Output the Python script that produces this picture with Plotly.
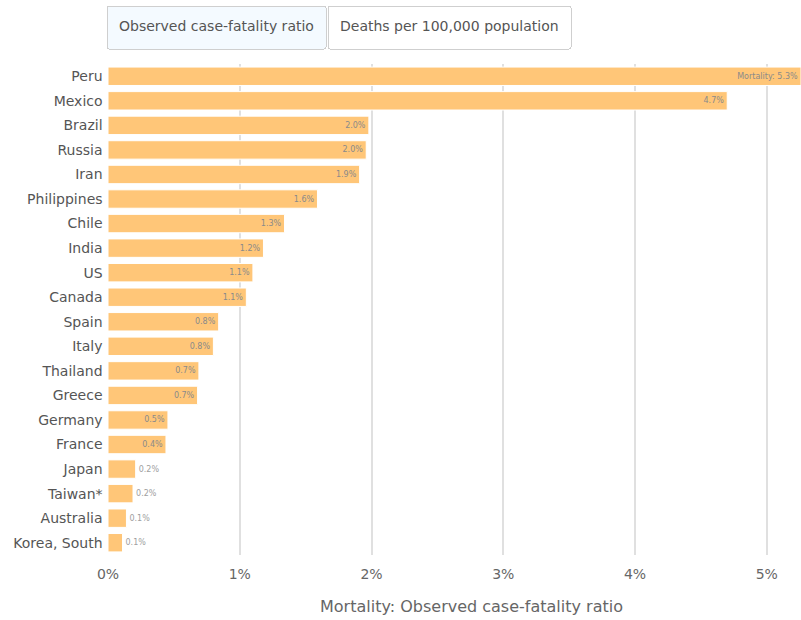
import plotly.graph_objects as go

countries = ["Peru", "Mexico", "Brazil", "Russia", "Iran", "Philippines", "Chile", "India",
             "US", "Canada", "Spain", "Italy", "Thailand", "Greece", "Germany", "France",
             "Japan", "Taiwan*", "Australia", "Korea, South"]
cfr = [5.26, 4.70, 1.98, 1.96, 1.91, 1.59, 1.34, 1.18,
       1.10, 1.05, 0.84, 0.80, 0.69, 0.68, 0.455, 0.44,
       0.21, 0.19, 0.14, 0.11]
label_prefix = ["Mortality: "] + [""] * (len(countries) - 1)
tick_vals = [0, 1, 2, 3, 4, 5]
tick_text = ["0%", "1%", "2%", "3%", "4%", "5%"]
button_labels = ["Observed case-fatality ratio", "Deaths per 100,000 population"]
axis_title = "Mortality: Observed case-fatality ratio"

texts = [f"{p}{v:.1f}%" for p, v in zip(label_prefix, cfr)]
positions = ["inside" if v >= 0.3 else "outside" for v in cfr]

FONT = "DejaVu Sans, Tahoma, Verdana, sans-serif"


def btn_label(s):
    return "<br><span style='font-size:14px'>" + s + "</span><br> "


fig = go.Figure(go.Bar(
    x=cfr, y=countries, orientation="h",
    marker=dict(color="#ffc678", line=dict(color="white", width=1)),
    text=texts, textposition=positions, insidetextanchor="end",
    insidetextfont=dict(size=8, color="#8a8a8a", family=FONT),
    outsidetextfont=dict(size=8, color="#a0a0a0", family=FONT),
    cliponaxis=False,
    constraintext="none",
))

fig.update_layout(
    width=801, height=620,
    margin=dict(l=108, r=0, t=64, b=65),
    plot_bgcolor="white", paper_bgcolor="white",
    font=dict(family=FONT, color="#555"),
    bargap=0.25,
    showlegend=False,
    xaxis=dict(range=[0, 5.26], tickvals=tick_vals, ticktext=tick_text,
               showgrid=True, gridcolor="#e0e0e0", gridwidth=1.5, zeroline=False,
               ticks="outside", ticklen=6, tickcolor="rgba(0,0,0,0)",
               tickfont=dict(size=14, color="#666")),
    yaxis=dict(autorange="reversed", tickfont=dict(size=14, color="#555"),
               ticksuffix=" ", showgrid=False),
    annotations=[dict(text=axis_title, xref="paper", yref="paper",
                      x=0.525, y=-0.104, xanchor="center", yanchor="middle",
                      showarrow=False, font=dict(size=16, color="#666"))],
    updatemenus=[dict(
        type="buttons", direction="right", active=0,
        x=-0.003, xanchor="left", y=1, yanchor="bottom",
        pad=dict(t=0, b=16, l=0, r=0),
        bgcolor="white", bordercolor="#cfcfcf", borderwidth=1,
        font=dict(size=10.25, color="#555", family=FONT),
        showactive=True,
        buttons=[dict(label=btn_label(b), method="skip", args=[None]) for b in button_labels],
    )],
)

fig.write_html("out.html")
